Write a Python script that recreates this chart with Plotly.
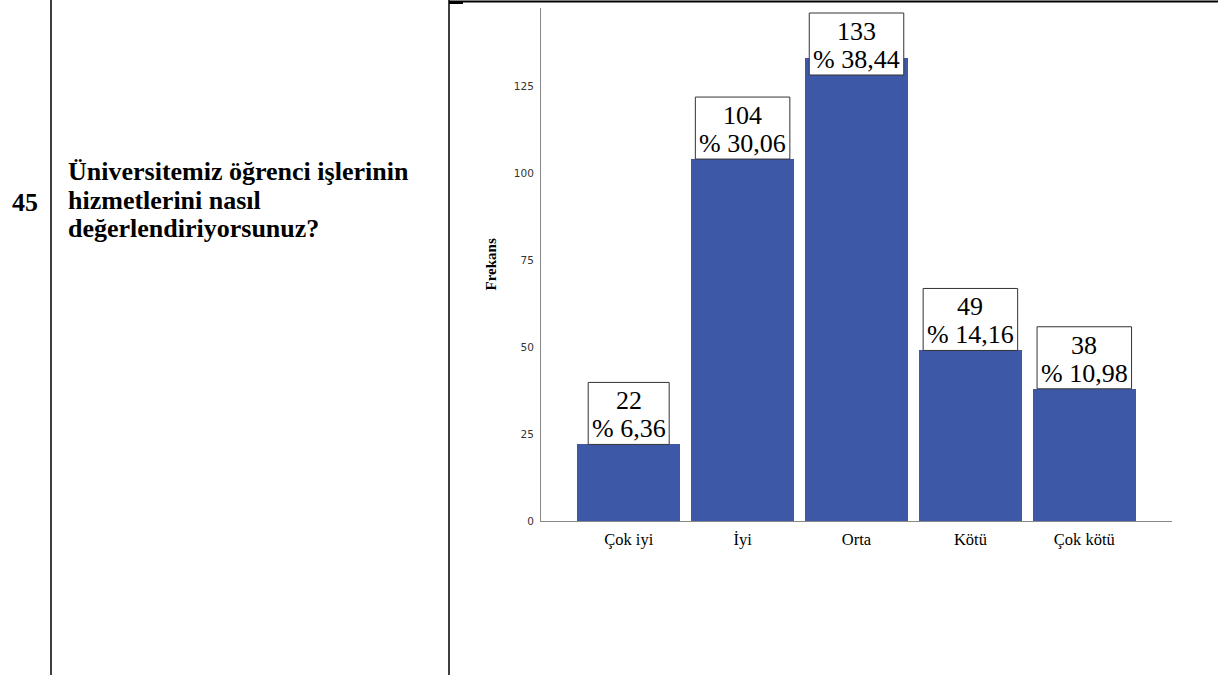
import plotly.graph_objects as go

categories = ["Çok iyi", "İyi", "Orta", "Kötü", "Çok kötü"]
counts = [22, 104, 133, 49, 38]
percents = ["6,36", "30,06", "38,44", "14,16", "10,98"]
y_ticks = [0, 25, 50, 75, 100, 125]
question_no = "45"
question_lines = ["Üniversitemiz öğrenci işlerinin", "hizmetlerini nasıl", "değerlendiriyorsunuz?"]
y_title = "Frekans"

W, H = 1218, 675
PL, PR, PT, PB = 541, 1172, 8, 521  # plot area in pixels
YMAX = 147.4
BAR_COLOR = "#3e58a8"
SERIF = "Times New Roman, Liberation Serif, serif"


def px_x(px):
    return (px - PL) / (PR - PL)


def px_y(py):
    return (PB - py) / (PB - PT)


fig = go.Figure()
fig.add_trace(go.Bar(
    x=categories, y=counts, width=0.9,
    marker=dict(color=BAR_COLOR, line=dict(width=0)),
    hoverinfo="skip",
))

BOX_H = 62           # label box height in px
TOP_GAP = 5          # min gap between box and plot top in px
units_per_px = YMAX / (PB - PT)
label_font = dict(family=SERIF, size=26, color="black")

annotations = []
shapes = []
for cat, c, p in zip(categories, counts, percents):
    line2 = "% " + p
    box_w = 13.5 * len(line2)
    if c + (BOX_H + TOP_GAP) * units_per_px > YMAX:
        yref, anchor, base = "paper", 1, -(TOP_GAP + BOX_H)
    else:
        yref, anchor, base = "y", c, 0
    shapes.append(dict(
        type="rect", xref="x", yref=yref,
        xsizemode="pixel", xanchor=cat, x0=-box_w / 2, x1=box_w / 2,
        ysizemode="pixel", yanchor=anchor, y0=base, y1=base + BOX_H,
        fillcolor="white", line=dict(color="#333", width=1), layer="above",
    ))
    for txt, off in ((str(c), 43.5), (line2, 15.5)):
        annotations.append(dict(
            x=cat, xref="x", y=anchor, yref=yref, yshift=base + off,
            text=txt, showarrow=False, xanchor="center", yanchor="middle",
            font=label_font, borderpad=0,
        ))

# y axis title
annotations.append(dict(
    x=px_x(490), y=0.5, xref="paper", yref="paper", text=f"<b>{y_title}</b>",
    textangle=-90, showarrow=False, xanchor="center", yanchor="middle",
    font=dict(family=SERIF, size=15, color="black"),
))
# question number and text
q_font = dict(family=SERIF, size=26, color="black")
annotations.append(dict(
    x=px_x(25), y=px_y(202), xref="paper", yref="paper", text=f"<b>{question_no}</b>",
    showarrow=False, xanchor="center", yanchor="middle", font=q_font,
))
for i, line in enumerate(question_lines):
    annotations.append(dict(
        x=px_x(66), y=px_y(171.5 + 28.5 * i), xref="paper", yref="paper",
        text=f"<b>{line}</b>", showarrow=False, xanchor="left", yanchor="middle",
        font=q_font,
    ))

shapes += [
    dict(type="line", xref="paper", yref="paper", x0=px_x(51), x1=px_x(51),
         y0=px_y(0), y1=px_y(H), line=dict(color="black", width=1.5)),
    dict(type="line", xref="paper", yref="paper", x0=px_x(449), x1=px_x(449),
         y0=px_y(0), y1=px_y(H), line=dict(color="black", width=1.5)),
    dict(type="line", xref="paper", yref="paper", x0=px_x(449), x1=px_x(W),
         y0=px_y(1.5), y1=px_y(1.5), line=dict(color="black", width=2)),
    dict(type="line", xref="paper", yref="paper", x0=px_x(449), x1=px_x(463),
         y0=px_y(3), y1=px_y(3), line=dict(color="black", width=2)),
]

fig.update_layout(
    width=W, height=H,
    margin=dict(l=PL, r=W - PR, t=PT, b=H - PB, pad=0),
    paper_bgcolor="white", plot_bgcolor="white",
    showlegend=False,
    annotations=annotations, shapes=shapes,
    bargap=0,
)
fig.update_xaxes(
    range=[-0.77, 4.77], showline=True, linecolor="#888", linewidth=1,
    ticks="", showgrid=False, zeroline=False,
    tickfont=dict(family=SERIF, size=16.5, color="black"),
    ticklabelstandoff=3,
)
fig.update_yaxes(
    range=[0, YMAX], showline=True, linecolor="#888", linewidth=1,
    ticks="", showgrid=False, zeroline=False,
    tickvals=y_ticks, ticktext=[str(v) for v in y_ticks],
    tickfont=dict(family="DejaVu Sans", size=10.5, color="#333"),
    ticklabelstandoff=4,
)

fig.write_html(
    "out.html",
    config={"displayModeBar": False},
    post_script="document.body.style.margin='0';document.body.style.overflow='hidden';",
)
